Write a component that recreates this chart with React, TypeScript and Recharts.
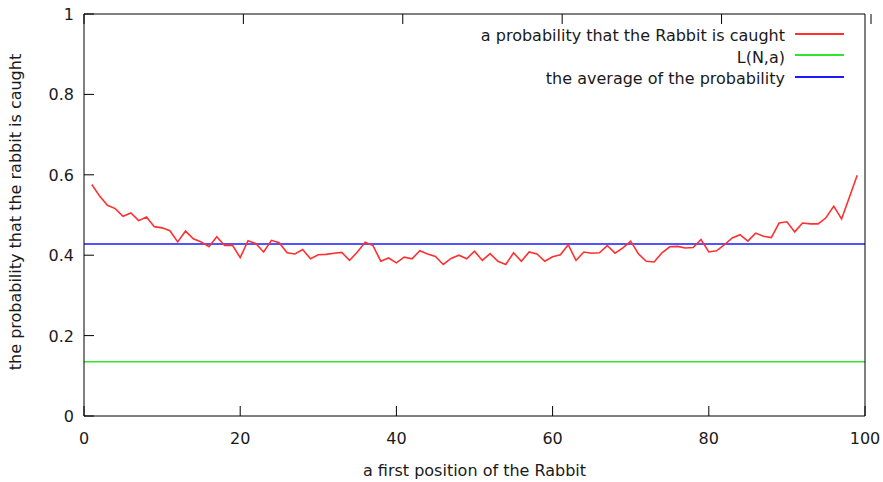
import React from 'react';
import { LineChart, Line, XAxis, YAxis, ReferenceLine, Legend } from 'recharts';

// probability that the rabbit is caught, for first positions 1..99
const caught = [
  0.576, 0.547, 0.524, 0.516, 0.497, 0.505, 0.486, 0.495, 0.471, 0.468,
  0.461, 0.433, 0.46, 0.441, 0.433, 0.421, 0.446, 0.424, 0.425, 0.394,
  0.436, 0.429, 0.408, 0.437, 0.431, 0.406, 0.403, 0.414, 0.391, 0.401,
  0.402, 0.405, 0.407, 0.387, 0.408, 0.432, 0.424, 0.385, 0.393, 0.381,
  0.395, 0.391, 0.411, 0.403, 0.397, 0.377, 0.392, 0.4, 0.391, 0.41,
  0.387, 0.404, 0.385, 0.377, 0.406, 0.385, 0.408, 0.403, 0.385, 0.396,
  0.401, 0.426, 0.387, 0.408, 0.405, 0.406, 0.424, 0.405, 0.418, 0.435,
  0.403, 0.385, 0.383, 0.406, 0.421, 0.422, 0.418, 0.419, 0.439, 0.408,
  0.411, 0.426, 0.443, 0.451, 0.435, 0.455, 0.447, 0.444, 0.48, 0.483,
  0.458, 0.48, 0.478, 0.478, 0.493, 0.522, 0.49, 0.544, 0.599,
];
const lNa = 0.135;
const average = 0.428;

const xTicks = [0, 20, 40, 60, 80, 100];
const yTicks = [0, 0.2, 0.4, 0.6, 0.8, 1];

const legendItems = [
  { label: 'a probability that the Rabbit is caught', color: '#ff3030' },
  { label: 'L(N,a)', color: '#2ee62e' },
  { label: 'the average of the probability', color: '#1a1aff' },
];

const data = caught.map((p, i) => ({ pos: i + 1, p }));

const FONT = '"DejaVu Sans", Verdana, sans-serif';
const FS = 16;
const TEXT = '#1a1a1a';
const TICK = 10;

const BottomTick = ({ x, y, payload }: any) => (
  <g>
    <line x1={x} y1={y} x2={x} y2={y - TICK} stroke="#000" />
    <text x={x} y={y + 28} textAnchor="middle" fontSize={FS} fill={TEXT} fontFamily={FONT}>
      {payload.value}
    </text>
  </g>
);

const LeftTick = ({ x, y, payload }: any) => (
  <g>
    <line x1={x} y1={y} x2={x + TICK} y2={y} stroke="#000" />
    <text x={x - 10} y={y + 6} textAnchor="end" fontSize={FS} fill={TEXT} fontFamily={FONT}>
      {payload.value}
    </text>
  </g>
);

const TopTick = ({ x, y }: any) => <line x1={x} y1={y} x2={x} y2={y + TICK} stroke="#000" />;
const RightTick = ({ x, y }: any) => <line x1={x} y1={y} x2={x - TICK} y2={y} stroke="#000" />;

const LegendBox = () => (
  <div style={{ fontFamily: FONT, fontSize: FS, color: TEXT }}>
    {legendItems.map((it) => (
      <div key={it.label} style={{ display: 'flex', justifyContent: 'flex-end', alignItems: 'center', height: 21.5 }}>
        <span style={{ whiteSpace: 'nowrap' }}>{it.label}</span>
        <span style={{ display: 'inline-block', width: 49, height: 2, background: it.color, marginLeft: 10, marginTop: -4 }} />
      </div>
    ))}
  </div>
);

export default function App() {
  return (
    <div style={{ position: 'absolute', left: 0, top: 0, background: '#fff' }}>
      <LineChart width={883} height={482} data={data} margin={{ top: 0, right: 0, bottom: 0, left: 0 }}>
        <XAxis
          dataKey="pos"
          type="number"
          domain={[0, 100]}
          ticks={xTicks}
          height={66}
          stroke="#000"
          tickLine={false}
          tickSize={0}
          tickMargin={0}
          tick={<BottomTick />}
          label={{
            content: ({ viewBox }: any) => (
              <text x={viewBox.x + viewBox.width / 2} y={viewBox.y + 60} textAnchor="middle" fontSize={FS} fill={TEXT} fontFamily={FONT}>
                a first position of the Rabbit
              </text>
            ),
          }}
        />
        <XAxis
          xAxisId="top"
          orientation="top"
          type="number"
          domain={[0, 100]}
          ticks={xTicks}
          height={14}
          stroke="#000"
          tickLine={false}
          tickSize={0}
          tickMargin={0}
          tick={<TopTick />}
        />
        <YAxis
          type="number"
          domain={[0, 1]}
          ticks={yTicks}
          width={84}
          stroke="#000"
          tickLine={false}
          tickSize={0}
          tickMargin={0}
          tick={<LeftTick />}
          label={{
            content: ({ viewBox }: any) => {
              const cx = viewBox.x + 21;
              const cy = viewBox.y + viewBox.height / 2 - 3;
              return (
                <text x={cx} y={cy} transform={`rotate(-90 ${cx} ${cy})`} textAnchor="middle" fontSize={FS} fill={TEXT} fontFamily={FONT}>
                  the probability that the rabbit is caught
                </text>
              );
            },
          }}
        />
        <YAxis
          yAxisId="right"
          orientation="right"
          type="number"
          domain={[0, 1]}
          ticks={yTicks}
          width={18}
          stroke="#000"
          tickLine={false}
          tickSize={0}
          tickMargin={0}
          tick={<RightTick />}
        />
        <ReferenceLine y={lNa} stroke={legendItems[1].color} strokeWidth={1.5} />
        <ReferenceLine y={average} stroke={legendItems[2].color} strokeWidth={1.5} />
        <Line
          dataKey="p"
          stroke={legendItems[0].color}
          strokeWidth={1.6}
          dot={false}
          isAnimationActive={false}
        />
        <Legend
          layout="horizontal"
          verticalAlign="middle"
          align="center"
          wrapperStyle={{ top: 25, right: 39, left: 'auto', width: 'auto' }}
          content={<LegendBox />}
        />
      </LineChart>
    </div>
  );
}
